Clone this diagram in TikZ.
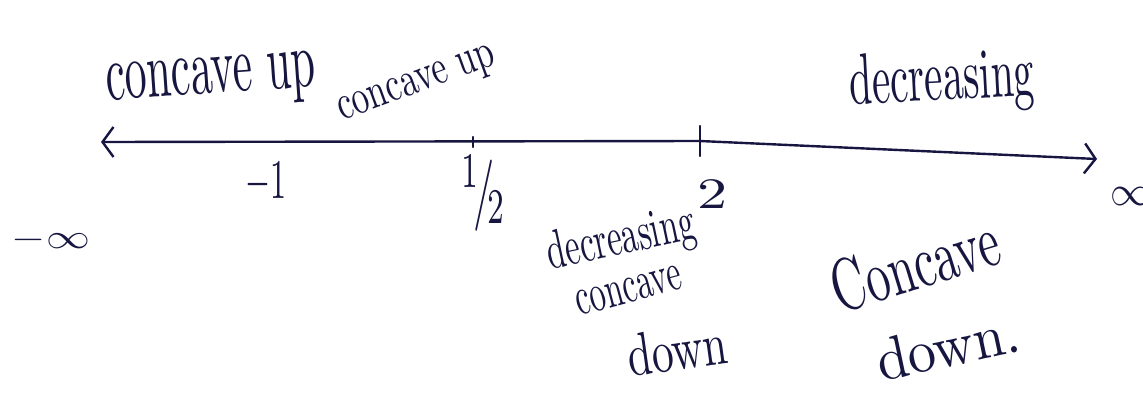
\documentclass[tikz,border=0pt]{standalone}
\usepackage{graphicx}
\usetikzlibrary{arrows.meta}
\definecolor{ink}{RGB}{22,22,64}
\newcommand\handw[3]{\resizebox{#1pt}{#2pt}{#3}}
\begin{document}
\begin{tikzpicture}[x=1pt,y=-1pt,
  hw/.style={text=ink, inner sep=0pt},
  axisline/.style={draw=ink, line width=2.4pt, line cap=round, line join=round},
  tickmark/.style={draw=ink, line width=2.4pt, line cap=round}]
\useasboundingbox (0,0) rectangle (1143,392);
\fill[white] (0,0) rectangle (1143,392);
\clip (0,0) rectangle (1143,392);

% number line
\coordinate (L) at (101,142);
\coordinate (M) at (700,141);
\coordinate (R) at (1097,159);
\draw[axisline, {Straight Barb[length=11pt,width=30pt]}-{Straight Barb[length=11pt,width=30pt]}] (L) -- (M) -- (R);

% ticks
\coordinate (h1) at (473,137); \coordinate (h2) at (473,147);
\coordinate (t1) at (700,126); \coordinate (t2) at (700,156);
\draw[tickmark] (h1) -- (h2);
\draw[tickmark] (t1) -- (t2);

% tick labels
\node[hw] (mone) at (266,183) {\handw{41}{36}{$-1$}};
\node[hw] (half) at (484,193) {\handw{45}{58}{${}^{1}\!/\!{}_{2}$}};
\node[hw] (two) at (712,194) {\handw{30}{28}{$2$}};
\node[hw] (minf) at (51,240) {\handw{78}{20}{$-\infty$}};
\node[hw] (pinf) at (1130,196) {\handw{40}{18}{$\infty$}};

% region labels
\node[hw, anchor=base, rotate=4] (cu1) at (212,93) {\handw{210}{36}{concave up}};
\node[hw, anchor=base, rotate=20] (cu2) at (420,92) {\handw{165}{22}{concave up}};
\node[hw, anchor=base, rotate=3] (dec1) at (943,100) {\handw{185}{50}{decreasing}};
\node[hw, anchor=base, rotate=12] (dec2) at (624,254) {\handw{150}{38}{decreasing}};
\node[hw, anchor=base, rotate=15] (cc2) at (632,302) {\handw{108}{24}{concave}};
\node[hw, anchor=base, rotate=8] (dn2) at (680,370) {\handw{100}{42}{down}};
\node[hw, anchor=base, rotate=17] (cc3) at (922,288) {\handw{172}{52}{Concave}};
\node[hw, anchor=base, rotate=12] (dn3) at (952,366) {\handw{145}{42}{down.}};
\end{tikzpicture}
\end{document}
